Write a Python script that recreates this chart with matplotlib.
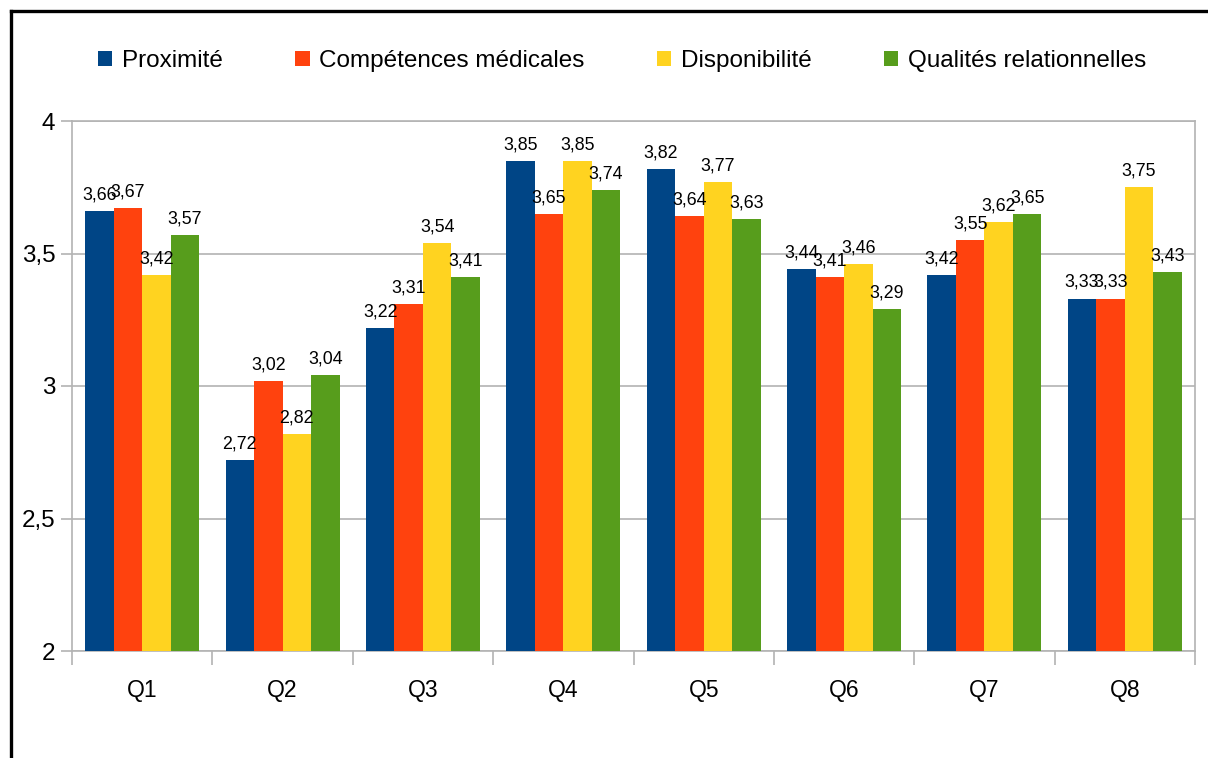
import numpy as np
import matplotlib.pyplot as plt
from matplotlib.lines import Line2D
from matplotlib.ticker import FixedLocator

plt.rcParams['font.family'] = ['Liberation Sans', 'DejaVu Sans']

questions = ['Q1', 'Q2', 'Q3', 'Q4', 'Q5', 'Q6', 'Q7', 'Q8']
series = ['Proximité', 'Compétences médicales', 'Disponibilité', 'Qualités relationnelles']
proximite = [3.66, 2.72, 3.22, 3.85, 3.82, 3.44, 3.42, 3.33]
competences = [3.67, 3.02, 3.31, 3.65, 3.64, 3.41, 3.55, 3.33]
disponibilite = [3.42, 2.82, 3.54, 3.85, 3.77, 3.46, 3.62, 3.75]
qualites = [3.57, 3.04, 3.41, 3.74, 3.63, 3.29, 3.65, 3.43]
colors = ['#004586', '#ff420e', '#ffd320', '#579d1c']

values = [proximite, competences, disponibilite, qualites]

fig = plt.figure(figsize=(12.08, 7.58), dpi=100)
ax = fig.add_axes([72 / 1208, 1 - 651 / 758, (1195 - 72) / 1208, (651 - 121) / 758])

x = np.arange(len(questions))
w = 0.203
for i, (name, vals, col) in enumerate(zip(series, values, colors)):
    bars = ax.bar(x + (i - 1.5) * w, vals, w, color=col, label=name, zorder=3)
    ax.bar_label(bars, labels=[f'{v:.2f}'.replace('.', ',') for v in vals],
                 padding=5.5, fontsize=12.8, zorder=4)

ax.set_ylim(2, 4)
ax.set_xlim(-0.5, len(questions) - 0.5)
ax.set_yticks([2, 2.5, 3, 3.5, 4])
ax.set_yticklabels(['2', '2,5', '3', '3,5', '4'])
ax.set_xticks(x)
ax.set_xticklabels(questions)
ax.xaxis.set_minor_locator(FixedLocator(np.arange(-0.5, len(questions), 1)))

grey = '#b3b3b3'
ax.yaxis.grid(True, color=grey, linewidth=1.2, zorder=0)
for s in ax.spines.values():
    s.set_color(grey)
    s.set_linewidth(1.2)
ax.tick_params(axis='y', length=8, width=1.2, color=grey, pad=4, labelsize=17.5)
ax.tick_params(axis='x', which='major', length=0, pad=20, labelsize=16.5)
ax.tick_params(axis='x', which='minor', length=10, width=1.2, color=grey)

fig.legend(loc='center', bbox_to_anchor=(622 / 1208, 1 - 61 / 758), ncol=4,
           frameon=False, fontsize=17.5, handlelength=0.6, handleheight=0.6,
           handletextpad=0.4, columnspacing=2.96)

# outer frame, only left and top edges fall inside the image
fig.add_artist(Line2D([11 / 1208, 11 / 1208], [0, 1 - 11 / 758], color='black', linewidth=2.4))
fig.add_artist(Line2D([11 / 1208, 1], [1 - 11 / 758, 1 - 11 / 758], color='black', linewidth=2.4))

fig.savefig('out.png', dpi=100)
